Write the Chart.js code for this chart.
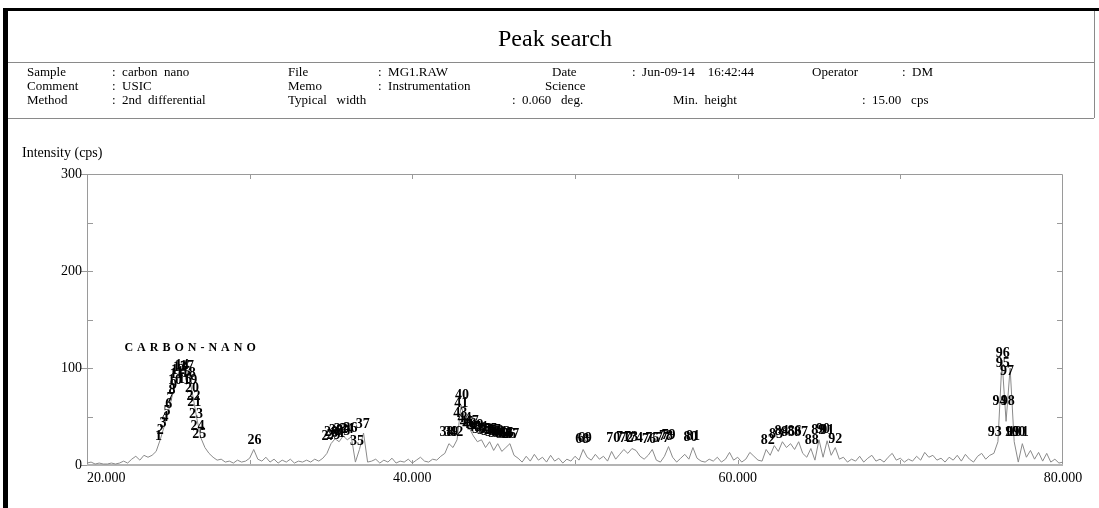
<!DOCTYPE html>
<html>
<head>
<meta charset="utf-8">
<script src="https://cdn.jsdelivr.net/npm/chart.js@4.4.1/dist/chart.umd.min.js"></script>
<style>
  html, body { margin: 0; padding: 0; background: #fff; }
  #wrap { position: relative; width: 1099px; height: 508px; overflow: hidden;
          font-family: "Liberation Serif", "Times New Roman", serif; color: #000; }
  #chart { position: absolute; left: 0; top: 0; }
  .frameL { position: absolute; left: 3px; top: 8px; width: 5px; height: 500px; background: #000; }
  .frameT { position: absolute; left: 3px; top: 8px; width: 1096px; height: 3px; background: #000; }
  .hline { position: absolute; left: 8px; width: 1086px; height: 0; border-top: 1px solid #8a8a8a; }
  .vline { position: absolute; left: 1094px; top: 11px; width: 0; height: 107px; border-left: 1px solid #8a8a8a; }
  .t { position: absolute; font-size: 13px; white-space: pre; line-height: 14px; }
  #title { position: absolute; left: 0; width: 1110px; top: 25px; text-align: center; font-size: 24px; }
  #ytitle { position: absolute; left: 22px; top: 145px; font-size: 14px; white-space: pre; }
</style>
</head>
<body>
<div id="wrap">
  <canvas id="chart" width="1099" height="508"></canvas>
  <div class="frameL"></div>
  <div class="frameT"></div>
  <div class="vline"></div>
  <div class="hline" style="top:62px"></div>
  <div class="hline" style="top:118px"></div>
  <div id="title">Peak search</div>

  <div class="t" style="left:27px;top:65px">Sample</div>
  <div class="t" style="left:112px;top:65px">:  carbon  nano</div>
  <div class="t" style="left:288px;top:65px">File</div>
  <div class="t" style="left:378px;top:65px">:  MG1.RAW</div>
  <div class="t" style="left:552px;top:65px">Date</div>
  <div class="t" style="left:632px;top:65px">:  Jun-09-14    16:42:44</div>
  <div class="t" style="left:812px;top:65px">Operator</div>
  <div class="t" style="left:902px;top:65px">:  DM</div>

  <div class="t" style="left:27px;top:79px">Comment</div>
  <div class="t" style="left:112px;top:79px">:  USIC</div>
  <div class="t" style="left:288px;top:79px">Memo</div>
  <div class="t" style="left:378px;top:79px">:  Instrumentation</div>
  <div class="t" style="left:545px;top:79px">Science</div>

  <div class="t" style="left:27px;top:93px">Method</div>
  <div class="t" style="left:112px;top:93px">:  2nd  differential</div>
  <div class="t" style="left:288px;top:93px">Typical   width</div>
  <div class="t" style="left:512px;top:93px">:  0.060   deg.</div>
  <div class="t" style="left:673px;top:93px">Min.  height</div>
  <div class="t" style="left:862px;top:93px">:  15.00   cps</div>

  <div id="ytitle">Intensity (cps)</div>
</div>
<script>
// 2theta (deg), step 0.25
var twoTheta = [
  20.00, 20.25, 20.50, 20.75, 21.00, 21.25, 21.50, 21.75,
  22.00, 22.25, 22.50, 22.75, 23.00, 23.25, 23.50, 23.75,
  24.00, 24.25, 24.50, 24.75, 25.00, 25.25, 25.50, 25.75,
  26.00, 26.25, 26.50, 26.75, 27.00, 27.25, 27.50, 27.75,
  28.00, 28.25, 28.50, 28.75, 29.00, 29.25, 29.50, 29.75,
  30.00, 30.25, 30.50, 30.75, 31.00, 31.25, 31.50, 31.75,
  32.00, 32.25, 32.50, 32.75, 33.00, 33.25, 33.50, 33.75,
  34.00, 34.25, 34.50, 34.75, 35.00, 35.25, 35.50, 35.75,
  36.00, 36.25, 36.50, 36.75, 37.00, 37.25, 37.50, 37.75,
  38.00, 38.25, 38.50, 38.75, 39.00, 39.25, 39.50, 39.75,
  40.00, 40.25, 40.50, 40.75, 41.00, 41.25, 41.50, 41.75,
  42.00, 42.25, 42.50, 42.75, 43.00, 43.25, 43.50, 43.75,
  44.00, 44.25, 44.50, 44.75, 45.00, 45.25, 45.50, 45.75,
  46.00, 46.25, 46.50, 46.75, 47.00, 47.25, 47.50, 47.75,
  48.00, 48.25, 48.50, 48.75, 49.00, 49.25, 49.50, 49.75,
  50.00, 50.25, 50.50, 50.75, 51.00, 51.25, 51.50, 51.75,
  52.00, 52.25, 52.50, 52.75, 53.00, 53.25, 53.50, 53.75,
  54.00, 54.25, 54.50, 54.75, 55.00, 55.25, 55.50, 55.75,
  56.00, 56.25, 56.50, 56.75, 57.00, 57.25, 57.50, 57.75,
  58.00, 58.25, 58.50, 58.75, 59.00, 59.25, 59.50, 59.75,
  60.00, 60.25, 60.50, 60.75, 61.00, 61.25, 61.50, 61.75,
  62.00, 62.25, 62.50, 62.75, 63.00, 63.25, 63.50, 63.75,
  64.00, 64.25, 64.50, 64.75, 65.00, 65.25, 65.50, 65.75,
  66.00, 66.25, 66.50, 66.75, 67.00, 67.25, 67.50, 67.75,
  68.00, 68.25, 68.50, 68.75, 69.00, 69.25, 69.50, 69.75,
  70.00, 70.25, 70.50, 70.75, 71.00, 71.25, 71.50, 71.75,
  72.00, 72.25, 72.50, 72.75, 73.00, 73.25, 73.50, 73.75,
  74.00, 74.25, 74.50, 74.75, 75.00, 75.25, 75.50, 75.75,
  76.00, 76.25, 76.50, 76.75, 77.00, 77.25, 77.50, 77.75,
  78.00, 78.25, 78.50, 78.75, 79.00, 79.25, 79.50, 79.75,
  80.00
];

// intensity (cps)
var intensity = [
  2, 3, 1, 2, 1, 1, 2, 1,
  2, 4, 2, 6, 9, 5, 10, 8,
  10, 14, 26, 40, 55, 72, 86, 95,
  100, 94, 72, 48, 28, 18, 12, 8,
  5, 6, 3, 4, 2, 5, 3, 4,
  7, 16, 6, 4, 8, 3, 6, 2,
  5, 3, 6, 2, 4, 3, 5, 3,
  6, 4, 7, 12, 22, 27, 24, 30,
  26, 29, 3, 16, 33, 3, 4, 6,
  2, 5, 3, 7, 2, 4, 3, 6,
  2, 5, 8, 4, 3, 6, 5, 9,
  12, 22, 18, 26, 62, 44, 38, 30,
  24, 26, 18, 24, 15, 22, 14, 18,
  22, 10, 7, 3, 9, 4, 11, 5,
  8, 3, 10, 4, 7, 2, 6, 4,
  9, 5, 16, 8, 5, 11, 6, 9,
  4, 14, 6, 11, 16, 12, 17, 15,
  9, 6, 10, 16, 5, 3, 9, 19,
  8, 3, 7, 11, 6, 18, 7, 4,
  3, 6, 4, 8, 3, 6, 13, 5,
  8, 3, 6, 13, 9, 5, 4, 16,
  10, 20, 14, 24, 18, 22, 16, 24,
  12, 8, 17, 5, 26, 8, 25, 10,
  18, 6, 8, 3, 6, 4, 9, 3,
  7, 10, 4, 6, 3, 8, 12, 5,
  7, 3, 6, 4, 9, 5, 13, 8,
  10, 5, 7, 3, 8, 5, 10, 4,
  11, 6, 3, 9, 12, 6, 10, 12,
  24, 108, 45, 100, 24, 3, 22, 8,
  15, 6, 13, 4, 12, 3, 6, 2,
  3
];

// peak search result: number, position (deg), label height (cps)
var peakNo = [
  1, 2, 3, 4, 5, 6, 7, 8, 9, 10, 11, 12, 13, 14, 15, 16, 17, 18, 19, 20,
  21, 22, 23, 24, 25, 26, 27, 28, 29, 30, 31, 32, 33, 34, 35, 36, 37, 38, 39, 40,
  41, 42, 43, 44, 45, 46, 47, 48, 49, 50, 51, 52, 53, 54, 55, 56, 57, 58, 59, 60,
  61, 62, 63, 64, 65, 66, 67, 68, 69, 70, 71, 72, 73, 74, 75, 76, 77, 78, 79, 80,
  81, 82, 83, 84, 85, 86, 87, 88, 89, 90, 91, 92, 93, 94, 95, 96, 97, 98, 99, 100,
  101
];
var peakPos = [
  24.40, 24.50, 24.67, 24.80, 24.92, 25.02, 25.10, 25.22, 25.32, 25.41,
  25.50, 25.60, 25.72, 25.84, 25.95, 26.02, 26.15, 26.25, 26.35, 26.45,
  26.60, 26.55, 26.70, 26.80, 26.90, 30.30, 34.85, 35.00, 35.15, 35.30,
  35.45, 35.60, 35.75, 35.95, 36.60, 36.20, 36.95, 42.10, 42.40, 43.05,
  43.00, 42.70, 42.95, 43.20, 43.35, 43.50, 43.65, 43.80, 43.95, 44.10,
  44.25, 44.40, 44.50, 44.65, 44.80, 44.90, 45.00, 45.10, 45.20, 45.30,
  45.40, 45.50, 45.60, 45.70, 45.80, 45.95, 46.15, 50.45, 50.60, 52.35,
  52.95, 53.15, 53.45, 53.75, 54.75, 54.55, 55.40, 55.60, 55.75, 57.10,
  57.25, 61.85, 62.35, 62.70, 63.10, 63.50, 63.90, 64.55, 64.95, 65.25,
  65.50, 66.00, 75.80, 76.10, 76.30, 76.30, 76.55, 76.60, 76.90, 77.05,
  77.25
];
var peakCps = [
  22, 28, 36, 42, 48, 55, 61, 70, 75, 80,
  86, 90, 93, 95, 88, 81, 94, 87, 80, 72,
  57, 64, 45, 33, 24, 18, 22, 26, 23, 28,
  25, 30, 27, 29, 17, 31, 35, 26, 26, 65,
  56, 26, 46, 41, 37, 35, 38, 32, 34, 30,
  32, 28, 30, 27, 29, 26, 28, 25, 27, 25,
  26, 24, 26, 24, 25, 24, 24, 19, 20, 20,
  21, 20, 21, 20, 20, 19, 20, 22, 23, 21,
  22, 18, 24, 27, 26, 27, 26, 18, 28, 29,
  28, 19, 26, 58, 98, 108, 89, 58, 26, 26,
  26
];

var sampleNote = 'CARBON-NANO';
var sampleNotePos = [22.3, 121];

var xTickValues = [20, 40, 60, 80];
var xTickLabels = ['20.000', '40.000', '60.000', '80.000'];
var xMinorTicks = [30, 50, 70];
var yTickValues = [0, 100, 200, 300];
var yTickLabels = ['0', '100', '200', '300'];
var yMinorTicks = [50, 150, 250];

var axisGray = '#9a9a9a';

var peakPlugin = {
  id: 'peakPlugin',
  beforeDatasetsDraw: function (chart) {
    var ctx = chart.ctx, a = chart.chartArea;
    var x = chart.scales.x, y = chart.scales.y;
    ctx.save();
    ctx.strokeStyle = axisGray;
    ctx.lineWidth = 1;
    ctx.beginPath();
    ctx.moveTo(a.left + 0.5, a.top + 0.5);
    ctx.lineTo(a.right - 0.5, a.top + 0.5);
    ctx.lineTo(a.right - 0.5, a.bottom);
    ctx.moveTo(a.left + 0.5, a.top);
    ctx.lineTo(a.left + 0.5, a.bottom);
    ctx.stroke();

    // ticks
    ctx.beginPath();
    yTickValues.forEach(function (v) {
      var py = Math.round(y.getPixelForValue(v)) + 0.5;
      ctx.moveTo(a.left - 6, py); ctx.lineTo(a.left, py);
    });
    yMinorTicks.concat(yTickValues.slice(1, 3)).forEach(function (v) {
      var py = Math.round(y.getPixelForValue(v)) + 0.5;
      ctx.moveTo(a.left, py); ctx.lineTo(a.left + 6, py);
      ctx.moveTo(a.right - 6, py); ctx.lineTo(a.right, py);
    });
    xMinorTicks.concat(xTickValues.slice(1, 3)).forEach(function (v) {
      var px = Math.round(x.getPixelForValue(v)) + 0.5;
      ctx.moveTo(px, a.top); ctx.lineTo(px, a.top + 5);
      ctx.moveTo(px, a.bottom); ctx.lineTo(px, a.bottom - 5);
    });
    ctx.stroke();

    // x baseline
    ctx.strokeStyle = '#b4b4b4';
    ctx.lineWidth = 2;
    ctx.beginPath();
    ctx.moveTo(a.left, a.bottom);
    ctx.lineTo(a.right, a.bottom);
    ctx.stroke();

    ctx.fillStyle = '#000';
    ctx.font = '14px "Liberation Serif", serif';
    ctx.textAlign = 'right';
    ctx.textBaseline = 'middle';
    yTickValues.forEach(function (v, i) {
      ctx.fillText(yTickLabels[i], a.left - 5, y.getPixelForValue(v));
    });
    ctx.textBaseline = 'top';
    xTickValues.forEach(function (v, i) {
      ctx.textAlign = i === 0 ? 'left' : 'center';
      ctx.fillText(xTickLabels[i], x.getPixelForValue(v), a.bottom + 6);
    });
    ctx.restore();
  },
  afterDatasetsDraw: function (chart) {
    var ctx = chart.ctx;
    var x = chart.scales.x, y = chart.scales.y;
    ctx.save();
    ctx.fillStyle = '#000';
    ctx.font = 'bold 14px "Liberation Serif", serif';
    ctx.textAlign = 'center';
    ctx.textBaseline = 'bottom';
    for (var i = 0; i < peakNo.length; i++) {
      ctx.fillText(String(peakNo[i]), x.getPixelForValue(peakPos[i]), y.getPixelForValue(peakCps[i]));
    }
    ctx.font = 'bold 12px "Liberation Serif", serif';
    ctx.letterSpacing = '4px';
    ctx.textAlign = 'left';
    ctx.textBaseline = 'middle';
    ctx.fillText(sampleNote, x.getPixelForValue(sampleNotePos[0]), y.getPixelForValue(sampleNotePos[1]));
    ctx.restore();
  }
};

var points = [];
for (var i = 0; i < twoTheta.length; i++) {
  points.push({ x: twoTheta[i], y: intensity[i] });
}

var ctx = document.getElementById('chart').getContext('2d');
window.myChart = new Chart(ctx, {
  type: 'line',
  data: {
    datasets: [{
      label: 'carbon nano',
      data: points,
      borderColor: '#8a8a8a',
      borderWidth: 1,
      pointRadius: 0,
      tension: 0,
      fill: false
    }]
  },
  options: {
    responsive: false,
    animation: false,
    layout: { padding: { left: 87, top: 174, right: 36, bottom: 43 } },
    plugins: { legend: { display: false }, tooltip: { enabled: false } },
    scales: {
      x: { type: 'linear', min: 20, max: 80, display: false },
      y: { type: 'linear', min: 0, max: 300, display: false }
    }
  },
  plugins: [peakPlugin]
});
</script>
</body>
</html>
